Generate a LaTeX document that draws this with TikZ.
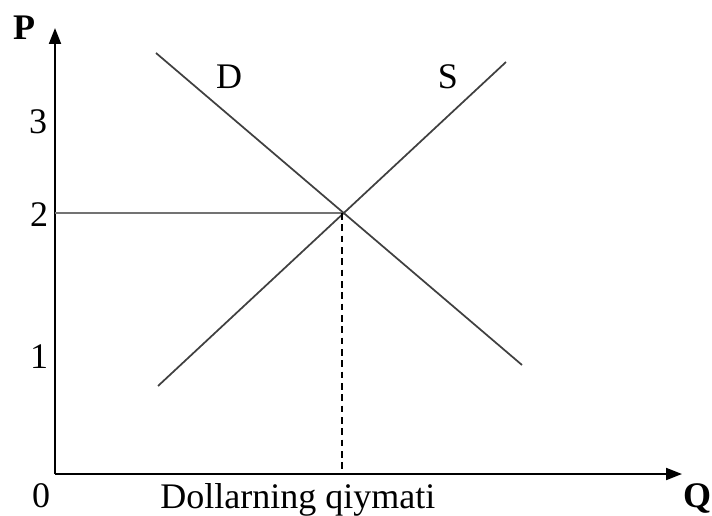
\documentclass[tikz,border=0pt]{standalone}
\usepackage{fontspec}
\setmainfont{Liberation Serif}
\usetikzlibrary{arrows.meta}
\begin{document}
\begin{tikzpicture}[x=0.75pt,y=-0.75pt,
  lbl/.style={font=\fontsize{27}{30}\selectfont, inner sep=0pt},
  blbl/.style={font=\fontsize{27}{30}\selectfont\bfseries, inner sep=0pt},
  axis/.style={line width=1.5pt, -{Triangle[length=12pt,width=9pt]}},
  curve/.style={line width=1.3pt, draw=black!75},
  guide/.style={line width=0.9pt, draw=black!55}]
\useasboundingbox (0,0) rectangle (712,516);
\coordinate (O) at (55,474);
\coordinate (Ytop) at (55,28);
\coordinate (Xend) at (682,474);
\coordinate (Dstart) at (156,53);
\coordinate (Dend) at (522,365);
\coordinate (Sstart) at (158,386);
\coordinate (Send) at (506,62);
\coordinate (E) at (342,213);
\coordinate (Ey) at (55,213);
\coordinate (Ex) at (342,474);
\draw[axis] (O) -- (Ytop);
\draw[axis] (O) -- (Xend);
\draw[curve] (Dstart) -- (Dend);
\draw[curve] (Sstart) -- (Send);
\draw[guide] (Ey) -- (E);
\draw[line width=1pt, dash pattern=on 5pt off 3.5pt] (E) -- (Ex);
\node[blbl] (P) at (24,28) {P};
\node[blbl] (Q) at (697,498) {Q};
\node[lbl] (zero) at (41,496) {0};
\node[lbl] (one) at (39,357) {1};
\node[lbl] (two) at (39,215) {2};
\node[lbl] (three) at (38,122) {3};
\node[lbl] (Dl) at (229,77) {D};
\node[lbl] (Sl) at (448,77) {S};
\node[lbl, anchor=base west] (xlabel) at (160,508) {Dollarning qiymati};
\end{tikzpicture}
\end{document}
